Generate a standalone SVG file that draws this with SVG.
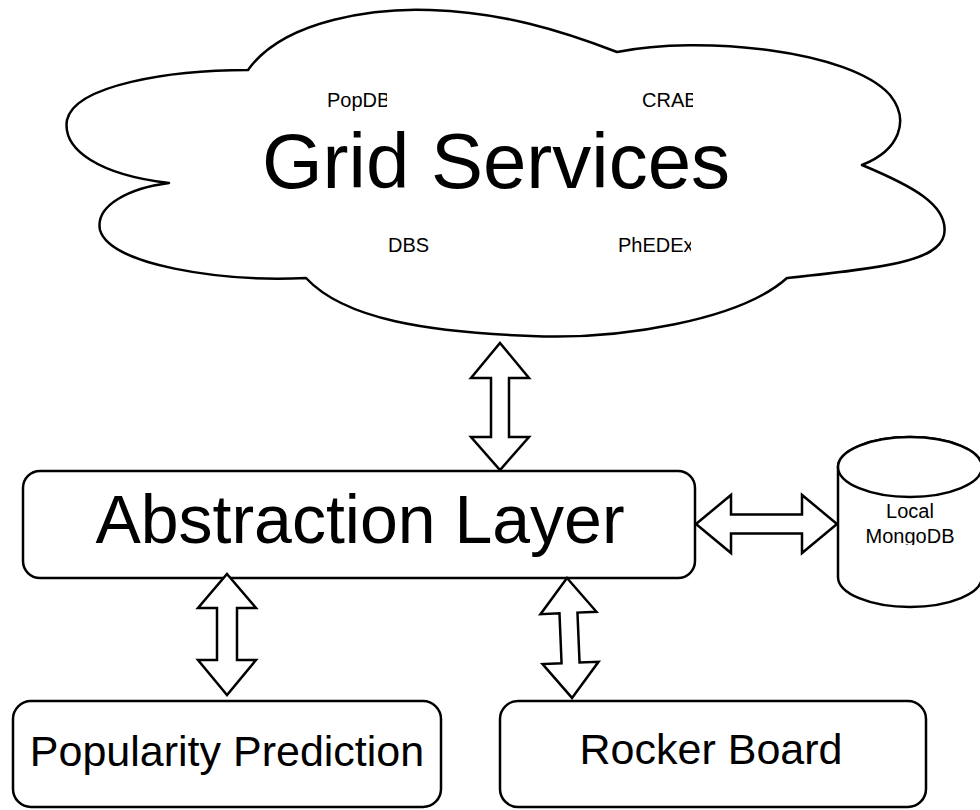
<svg xmlns="http://www.w3.org/2000/svg" width="980" height="810" viewBox="0 0 980 810">
<style>
.sh{fill:#fff;stroke:#000;stroke-width:2.5;stroke-linejoin:round}
.ar{fill:#fff;stroke:#000;stroke-width:2.5;stroke-linejoin:miter}
text{font-family:"Liberation Sans",Arial,Helvetica,sans-serif;fill:#000}
.c{text-anchor:middle}
</style>
<defs>
<clipPath id="cpPop"><rect x="300" y="80" width="87" height="40"/></clipPath>
<clipPath id="cpCrab"><rect x="620" y="80" width="73" height="40"/></clipPath>
<clipPath id="cpPhe"><rect x="600" y="225" width="91" height="40"/></clipPath>
<clipPath id="cpMongo"><rect x="840" y="495" width="140" height="50"/></clipPath>
</defs>
<rect width="980" height="810" fill="#fff"/>
<g id="grid-services">
<path class="sh" d="M248,70 C285,18 380,8 430,10 C500,12 560,30 617,52 C700,35 850,50 890,95 C910,120 900,150 862,165 C910,185 950,205 944,235 C938,262 880,268 787,278 C740,320 620,340 531,336 C430,332 345,320 306,278 C220,282 110,265 100,230 C95,205 130,188 169,183 C100,175 62,150 67,120 C75,85 170,70 248,70 Z"/>
<text class="c" x="496" y="188" font-size="78">Grid Services</text>
<text x="327" y="107" font-size="20" clip-path="url(#cpPop)">PopDB</text>
<text x="642" y="107" font-size="20" clip-path="url(#cpCrab)">CRAB</text>
<text x="388" y="252" font-size="20">DBS</text>
<text x="618" y="252" font-size="20" clip-path="url(#cpPhe)">PhEDEx</text>
</g>
<g id="abstraction-layer">
<rect class="sh" x="23" y="471" width="672" height="107" rx="17"/>
<text class="c" x="360" y="543" font-size="68">Abstraction Layer</text>
</g>
<g id="local-mongodb">
<path class="sh" d="M838,467 L838,577 A72,30 0 0 0 982,577 L982,467 A72,30 0 0 0 838,467 Z"/>
<ellipse class="sh" cx="910" cy="467" rx="72" ry="30"/>
<text class="c" x="910" y="518" font-size="20">Local</text>
<text class="c" x="910" y="543" font-size="20" clip-path="url(#cpMongo)">MongoDB</text>
</g>
<g id="popularity-prediction">
<rect class="sh" x="13" y="701" width="428" height="106" rx="18"/>
<text class="c" x="227" y="766" font-size="43">Popularity Prediction</text>
</g>
<g id="rocker-board">
<rect class="sh" x="500" y="701" width="426" height="106" rx="18"/>
<text class="c" x="711" y="764" font-size="43">Rocker Board</text>
</g>
<g id="connectors">
<polygon class="ar" points="500,343 529,378 509,378 509,437 529,437 500,470 471,437 491,437 491,378 471,378"/>
<polygon class="ar" points="696,524 731,495 731,514.5 802,514.5 802,495 837,524 802,553 802,533.5 731,533.5 731,553"/>
<polygon class="ar" points="227,574 256,608 237,608 237,660 256,660 227,695 198,660 217,660 217,608 198,608"/>
<polygon class="ar" transform="translate(567,578) rotate(-2.4)" points="0,0 28,35 9,35 9,85 28,85 0,120 -28,85 -9,85 -9,35 -28,35"/>
</g>
</svg>
